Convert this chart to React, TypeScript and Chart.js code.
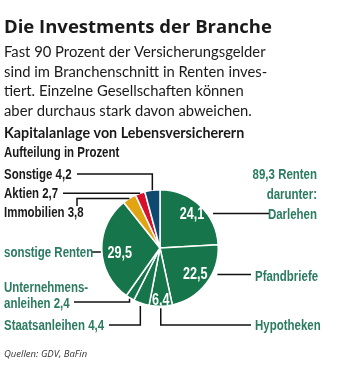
import React, { useEffect, useRef } from 'react';
import { Chart, registerables } from 'chart.js';

Chart.register(...registerables);

// ---------- data ----------
const categories = ['Darlehen', 'Pfandbriefe', 'Hypotheken', 'Staatsanleihen', 'Unternehmensanleihen', 'sonstige Renten', 'Immobilien', 'Aktien', 'Sonstige'];
const values = [24.1, 22.5, 6.4, 4.4, 2.4, 29.5, 3.8, 2.7, 4.2];
const rentenTotal = 89.3;
const title = 'Die Investments der Branche';
const introLines = [
  'Fast 90 Prozent der Versicherungsgelder',
  'sind im Branchenschnitt in Renten inves-',
  'tiert. Einzelne Gesellschaften können',
  'aber durchaus stark davon abweichen.',
];
const subtitle = 'Kapitalanlage von Lebensversicherern';
const unitLine = 'Aufteilung in Prozent';
const source = 'Quellen: GDV, BaFin';

// ---------- styles ----------
const GREEN = '#17754b';
const sliceColors = [GREEN, GREEN, GREEN, GREEN, GREEN, GREEN, '#e1a513', '#d7112b', '#0e4a6f'];
const TEXT_GREEN = '#2b7b5f';
const DARK = '#1a1a1a';
const COND = 0.74;
const LABEL_FONT = 'bold 15.5px "Liberation Sans", Arial, sans-serif';

const fmt = (v: number) => v.toFixed(1).replace('.', ',');

type Leader = { i: number; kind: 'midV' | 'midH' | 'edgeY'; x: number; y?: number; gap?: number };
type TextLine = { text: string; x: number; y: number; align: CanvasTextAlign };
type OutLabel = { lines: TextLine[]; color: string; leader?: Leader };

const outLabels: OutLabel[] = [
  { lines: [{ text: `Sonstige ${fmt(values[8])}`, x: 4, y: 179, align: 'left' }], color: DARK, leader: { i: 8, kind: 'midV', x: 77, y: 174 } },
  { lines: [{ text: `Aktien ${fmt(values[7])}`, x: 4, y: 198, align: 'left' }], color: DARK, leader: { i: 7, kind: 'midH', x: 63 } },
  { lines: [{ text: `Immobilien ${fmt(values[6])}`, x: 4, y: 217, align: 'left' }], color: DARK, leader: { i: 6, kind: 'midH', x: 77, y: 206 } },
  { lines: [{ text: categories[5], x: 4, y: 257, align: 'left' }], color: TEXT_GREEN, leader: { i: 5, kind: 'edgeY', x: 91, y: 252, gap: 1 } },
  { lines: [{ text: 'Unternehmens-', x: 4, y: 292, align: 'left' }, { text: `anleihen ${fmt(values[4])}`, x: 4, y: 308, align: 'left' }], color: TEXT_GREEN, leader: { i: 4, kind: 'midV', x: 74, y: 302, gap: 1 } },
  { lines: [{ text: `${categories[3]} ${fmt(values[3])}`, x: 4, y: 330, align: 'left' }], color: TEXT_GREEN, leader: { i: 3, kind: 'midV', x: 109, y: 325, gap: 3 } },
  { lines: [{ text: categories[2], x: 255, y: 330, align: 'left' }], color: TEXT_GREEN, leader: { i: 2, kind: 'midV', x: 251, y: 325, gap: 2 } },
  { lines: [{ text: categories[1], x: 255, y: 280.5, align: 'left' }], color: TEXT_GREEN, leader: { i: 1, kind: 'edgeY', x: 251, y: 274.5, gap: 5 } },
  { lines: [
      { text: `${fmt(rentenTotal)} Renten`, x: 317, y: 179, align: 'right' },
      { text: 'darunter:', x: 317, y: 199, align: 'right' },
      { text: categories[0], x: 317, y: 218.5, align: 'right' },
    ], color: TEXT_GREEN, leader: { i: 0, kind: 'edgeY', x: 269, y: 213.5, gap: 5 } },
];

const inLabels = [
  { i: 0, f: 0.8, dy: 0 },
  { i: 1, f: 0.76, dy: 0 },
  { i: 2, f: 0.9, dy: 0 },
  { i: 5, f: 0.69, dy: 4 },
];

function condText(ctx: CanvasRenderingContext2D, text: string, x: number, y: number, align: CanvasTextAlign, baseline: CanvasTextBaseline = 'alphabetic') {
  ctx.save();
  ctx.translate(x, y);
  ctx.scale(COND, 1);
  ctx.textAlign = align;
  ctx.textBaseline = baseline;
  ctx.fillText(text, 0, 0);
  ctx.restore();
}

const annotate = {
  id: 'annotate',
  afterDraw(chart: any) {
    const ctx: CanvasRenderingContext2D = chart.ctx;
    const meta = chart.getDatasetMeta(0);
    ctx.save();

    // headline & intro
    ctx.fillStyle = DARK;
    ctx.textAlign = 'left';
    ctx.textBaseline = 'alphabetic';
    ctx.font = 'bold 18.5px "Open Sans", sans-serif';
    ctx.fillText(title, 4, 33);
    ctx.font = '14.8px Lato, sans-serif';
    introLines.forEach((l, k) => ctx.fillText(l, 4, 57 + k * 19.6));
    ctx.font = 'bold 14.3px Lato, sans-serif';
    ctx.fillText(subtitle, 4, 138);
    ctx.font = LABEL_FONT;
    condText(ctx, unitLine, 4, 157, 'left');

    // leaders
    ctx.strokeStyle = '#111';
    ctx.lineWidth = 1.5;
    outLabels.forEach((lab) => {
      const L = lab.leader;
      if (!L) return;
      const arc = meta.data[L.i];
      const { x: cx, y: cy, outerRadius, startAngle, endAngle } = arc.getProps(['x', 'y', 'outerRadius', 'startAngle', 'endAngle'], true);
      const r = outerRadius + (L.gap ?? 0);
      ctx.beginPath();
      if (L.kind === 'edgeY') {
        const dy = (L.y as number) - cy;
        const dx = Math.sqrt(Math.max(r * r - dy * dy, 0));
        const ex = L.x < cx ? cx - dx : cx + dx;
        ctx.moveTo(ex, L.y as number);
        ctx.lineTo(L.x, L.y as number);
      } else {
        const a = (startAngle + endAngle) / 2;
        const px = cx + Math.cos(a) * r;
        const py = cy + Math.sin(a) * r;
        ctx.moveTo(px, py);
        if (L.kind === 'midV') {
          ctx.lineTo(px, L.y as number);
          ctx.lineTo(L.x, L.y as number);
        } else {
          ctx.lineTo(L.x, py);
          if (L.y !== undefined) ctx.lineTo(L.x, L.y);
        }
      }
      ctx.stroke();
    });

    // outside labels
    ctx.font = LABEL_FONT;
    outLabels.forEach((lab) => {
      ctx.fillStyle = lab.color;
      lab.lines.forEach((t) => condText(ctx, t.text, t.x, t.y, t.align));
    });

    // inside labels
    ctx.fillStyle = '#ffffff';
    ctx.font = 'bold 17px "Liberation Sans", Arial, sans-serif';
    inLabels.forEach((lab) => {
      const arc = meta.data[lab.i];
      const { x: cx, y: cy, outerRadius, startAngle, endAngle } = arc.getProps(['x', 'y', 'outerRadius', 'startAngle', 'endAngle'], true);
      const a = (startAngle + endAngle) / 2;
      condText(ctx, fmt(values[lab.i]), cx + Math.cos(a) * outerRadius * lab.f, cy + Math.sin(a) * outerRadius * lab.f + lab.dy, 'center', 'middle');
    });

    // source
    ctx.fillStyle = '#333';
    ctx.font = 'italic 9.5px "Open Sans", sans-serif';
    ctx.textAlign = 'left';
    ctx.fillText(source, 4, 357);

    ctx.restore();
  },
};

export default function App() {
  const ref = useRef<HTMLCanvasElement>(null);
  useEffect(() => {
    if (!ref.current) return;
    const chart = new Chart(ref.current, {
      type: 'pie',
      data: {
        labels: categories,
        datasets: [{ data: values, backgroundColor: sliceColors, borderColor: '#ffffff', borderWidth: 1.5 }],
      },
      options: {
        responsive: false,
        animation: false,
        layout: { padding: { left: 101, right: 139, top: 189, bottom: 77 } },
        plugins: { legend: { display: false }, tooltip: { enabled: false }, title: { display: false } },
      },
      plugins: [annotate],
    });
    return () => chart.destroy();
  }, []);
  return (
    <div style={{ position: 'fixed', left: 0, top: 0, width: 358, height: 384, background: '#fff' }}>
      <canvas ref={ref} width={358} height={384} style={{ display: 'block', width: 358, height: 384 }} />
    </div>
  );
}
